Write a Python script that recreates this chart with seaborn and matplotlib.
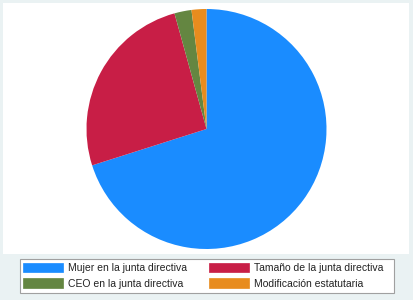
import matplotlib
matplotlib.use("Agg")
import matplotlib.pyplot as plt
from matplotlib.patches import Rectangle, Patch
import seaborn as sns

categories = ["Mujer en la junta directiva", "Tamaño de la junta directiva",
              "CEO en la junta directiva", "Modificación estatutaria"]
values = [70.1, 25.6, 2.3, 2.0]
colors = ["#1a8cff", "#c81e46", "#648641", "#e88c1e"]

sns.set_theme(style="white")
plt.rcParams['font.family'] = ['Liberation Sans', 'DejaVu Sans']

fig = plt.figure(figsize=(4.13, 3.0), dpi=100)
fig.patch.set_facecolor("#eaf2f3")
bg = Rectangle((3/413, (300-254)/300), 406/413, 251/300,
               transform=fig.transFigure, facecolor="white",
               edgecolor="none", zorder=-10)
fig.add_artist(bg)

ax = fig.add_axes([86.5/413, (300-249)/300, 240/413, 240/300])
ax.set_zorder(1)
ax.pie(values, colors=colors, startangle=90, counterclock=False,
       wedgeprops=dict(linewidth=0))
ax.set_xlim(-1, 1)
ax.set_ylim(-1, 1)
ax.axis("off")

# legend frame
frame = Rectangle((19.5/413, (300-292.5)/300), 374/413, 33.5/300,
                  transform=fig.transFigure, facecolor="white",
                  edgecolor="#a0a0a0", linewidth=0.8, zorder=2)
fig.add_artist(frame)

handles = [Patch(facecolor=c, edgecolor=c, linewidth=0.5) for c in colors]
order = [0, 2, 1, 3]
leg = fig.legend([handles[i] for i in order], [categories[i] for i in order],
                 ncol=2, loc="upper left",
                 bbox_to_anchor=(23/413, 1 - 262.5/300),
                 fontsize=7.5, handlelength=3.8, handleheight=1.0,
                 handletextpad=0.55, labelspacing=0.55, borderpad=0.0,
                 borderaxespad=0.0, columnspacing=2.1, frameon=False)
leg.set_zorder(3)
for t in leg.get_texts():
    t.set_color("#222222")

fig.savefig("out.png", dpi=100, facecolor=fig.get_facecolor())
